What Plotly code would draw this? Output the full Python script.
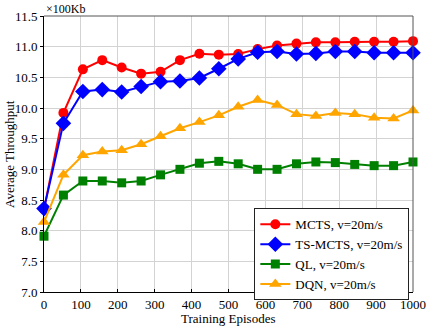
import plotly.graph_objects as go

episodes = [0, 52.6, 105.3, 157.9, 210.5, 263.2, 315.8, 368.4, 421.1, 473.7,
            526.3, 578.9, 631.6, 684.2, 736.8, 789.5, 842.1, 894.7, 947.4, 1000]
mcts = [8.35, 9.92, 10.63, 10.78, 10.66, 10.56, 10.59, 10.78, 10.885, 10.87,
        10.88, 10.96, 11.02, 11.05, 11.07, 11.07, 11.08, 11.08, 11.08, 11.09]
ts_mcts = [8.36, 9.75, 10.27, 10.30, 10.26, 10.35, 10.43, 10.44, 10.49, 10.64,
           10.80, 10.91, 10.92, 10.88, 10.89, 10.92, 10.92, 10.90, 10.90, 10.90]
ql = [7.91, 8.58, 8.81, 8.81, 8.78, 8.81, 8.91, 9.00, 9.10, 9.13,
      9.09, 9.00, 9.00, 9.09, 9.12, 9.11, 9.08, 9.06, 9.06, 9.12]
dqn = [8.14, 8.91, 9.23, 9.29, 9.31, 9.41, 9.54, 9.67, 9.77, 9.88,
       10.02, 10.13, 10.05, 9.90, 9.87, 9.92, 9.90, 9.84, 9.83, 9.96]
x_ticks = [0, 100, 200, 300, 400, 500, 600, 700, 800, 900, 1000]
y_ticks = [7.0, 7.5, 8.0, 8.5, 9.0, 9.5, 10.0, 10.5, 11.0, 11.5]
y_tick_text = ["7.0", "7.5", "8.0", "8.5", "9.0", "9.5", "10.0", "10.5", "11.0", "11.5"]

series = [
    ("MCTS, v=20m/s", mcts, "#ff0000", "circle", 10),
    ("TS-MCTS, v=20m/s", ts_mcts, "#0000ff", "diamond", 12),
    ("QL, v=20m/s", ql, "#008000", "square", 9),
    ("DQN, v=20m/s", dqn, "#ffa500", "triangle-up", 11),
]

FAM = "Liberation Serif"

fig = go.Figure()
for name, vals, color, sym, size in series:
    fig.add_trace(go.Scatter(
        x=episodes, y=vals, name=name, mode="lines+markers",
        line=dict(color=color, width=2),
        marker=dict(symbol=sym, size=size, color=color),
        cliponaxis=False,
    ))

fig.update_layout(
    width=428, height=326,
    margin=dict(l=44, r=15, t=16, b=34, autoexpand=False),
    paper_bgcolor="white", plot_bgcolor="white",
    font=dict(family=FAM, size=13, color="black"),
    showlegend=True,
    legend=dict(
        x=0.570, y=0.303, xanchor="left", yanchor="top",
        bgcolor="white", bordercolor="#222222", borderwidth=1,
        font=dict(family=FAM, size=13, color="black"),
        tracegroupgap=0, itemwidth=30,
    ),
    xaxis=dict(
        range=[0, 1000], tickmode="array", tickvals=x_ticks,
        showgrid=True, gridcolor="#d3d3d3", gridwidth=1,
        showline=True, linecolor="black", linewidth=1,
        ticks="inside", ticklen=3, tickcolor="black",
        zeroline=False, automargin=False,
        tickfont=dict(family=FAM, size=13),
    ),
    yaxis=dict(
        range=[7.0, 11.5], tickmode="array", tickvals=y_ticks, ticktext=y_tick_text,
        showgrid=True, gridcolor="#d3d3d3", gridwidth=1,
        showline=True, linecolor="black", linewidth=1,
        ticks="outside", ticklen=3, tickcolor="black",
        zeroline=False, automargin=False,
        tickfont=dict(family=FAM, size=13),
    ),
    shapes=[
        dict(type="line", xref="paper", yref="paper", x0=0, x1=1, y0=1, y1=1,
             line=dict(color="#555555", width=1)),
        dict(type="line", xref="paper", yref="paper", x0=1, x1=1, y0=0, y1=1,
             line=dict(color="#555555", width=1)),
    ],
    annotations=[
        dict(text="×100Kb", xref="paper", yref="paper", x=0, y=1, xanchor="left",
             yanchor="bottom", showarrow=False, yshift=-2,
             font=dict(family=FAM, size=12, color="black")),
        dict(text="Training Episodes", xref="paper", yref="paper", x=0.5, y=0,
             xanchor="center", yanchor="middle", showarrow=False, yshift=-26,
             font=dict(family=FAM, size=13, color="black")),
        dict(text="Average Throughput", xref="paper", yref="paper", x=0, y=0.5,
             xanchor="center", yanchor="middle", showarrow=False, xshift=-35,
             textangle=-90, font=dict(family=FAM, size=13, color="black")),
    ],
)

fig.write_html(
    "out.html",
    config={"displayModeBar": False},
    post_script="document.body.style.margin='0';document.body.style.padding='0';"
                "document.body.style.overflow='hidden';",
)
